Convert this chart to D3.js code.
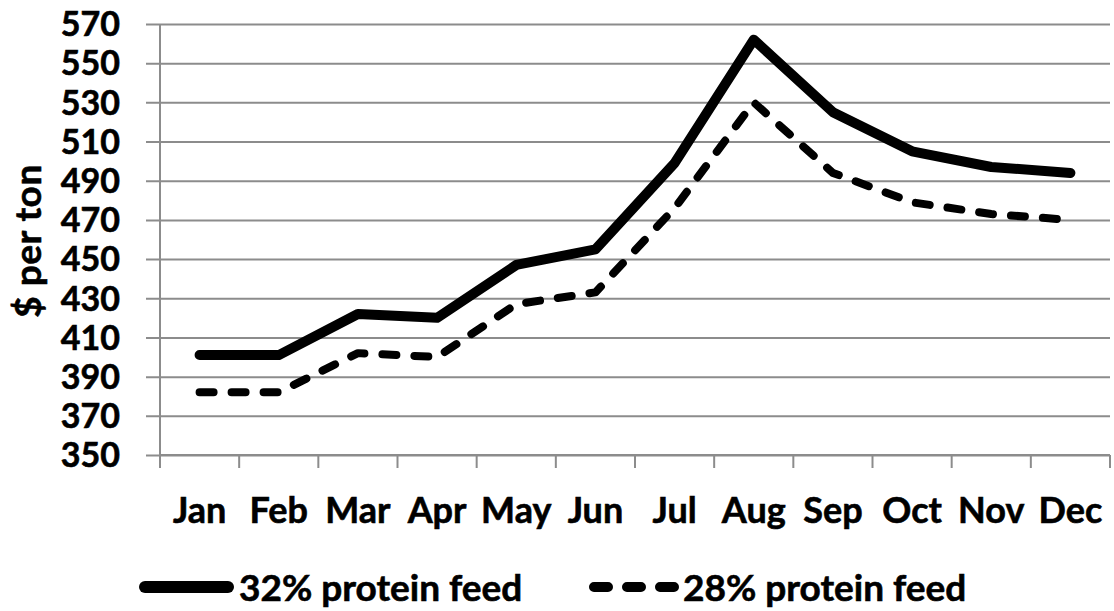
<!DOCTYPE html>
<html>
<head>
<meta charset="utf-8">
<script src="https://cdn.jsdelivr.net/npm/d3@7"></script>
<style>
  html, body { margin: 0; padding: 0; background: #fff; }
  text { font-family: Lato, "Open Sans", sans-serif; font-weight: bold; fill: #000; }
</style>
</head>
<body>
<div id="chart"></div>
<script>
let months = ["Jan", "Feb", "Mar", "Apr", "May", "Jun", "Jul", "Aug", "Sep", "Oct", "Nov", "Dec"];
let feed32 = [401, 401, 422, 420, 447, 455, 499, 562, 525, 505, 497, 494];
let feed28 = [382, 382, 402, 400, 427, 433, 476, 530, 494, 479, 473, 470];
let yTicks = [350, 370, 390, 410, 430, 450, 470, 490, 510, 530, 550, 570];
let seriesNames = ["32% protein feed", "28% protein feed"];

let fullWidth = 1114, fullHeight = 611;
let margin = { top: 24, right: 4, bottom: 156, left: 160 };
let width = fullWidth - margin.left - margin.right;
let height = fullHeight - margin.top - margin.bottom;

let svg = d3.select("#chart")
    .append("svg")
    .attr("width", fullWidth)
    .attr("height", fullHeight);

let g = svg.append("g")
    .attr("transform", `translate(${margin.left},${margin.top})`);

let x = d3.scaleBand()
    .domain(months)
    .range([0, width]);

let y = d3.scaleLinear()
    .domain([350, 570])
    .range([height, 0]);

// gridlines
g.append("g")
    .attr("class", "grid")
    .attr("transform", "translate(-14,0)")
    .call(d3.axisLeft(y).tickValues(yTicks).tickSize(-width - 14).tickFormat(""))
    .call(s => s.select(".domain").remove())
    .selectAll("line")
    .attr("stroke", "#8c8c8c")
    .attr("stroke-width", 2);

// y labels
g.append("g")
    .selectAll("text")
    .data(yTicks)
    .enter()
    .append("text")
    .attr("x", -40)
    .attr("y", d => y(d))
    .attr("dy", "0.36em")
    .attr("text-anchor", "end")
    .style("font-size", "34px")
    .style("stroke", "#000")
    .style("stroke-width", "0.6px")
    .text(d => d);

// y axis line
g.append("line")
    .attr("x1", 0).attr("x2", 0)
    .attr("y1", 0).attr("y2", height + 13)
    .attr("stroke", "#8c8c8c")
    .attr("stroke-width", 2);

// x axis line and ticks between categories
g.append("line")
    .attr("x1", 0).attr("x2", width)
    .attr("y1", height).attr("y2", height)
    .attr("stroke", "#8c8c8c")
    .attr("stroke-width", 2);

let boundaries = months.map(m => x(m)).concat([width]);
g.selectAll(".xtick")
    .data(boundaries)
    .enter()
    .append("line")
    .attr("class", "xtick")
    .attr("x1", d => d).attr("x2", d => d)
    .attr("y1", height).attr("y2", height + 13)
    .attr("stroke", "#8c8c8c")
    .attr("stroke-width", 2);

g.selectAll(".xlabel")
    .data(months)
    .enter()
    .append("text")
    .attr("class", "xlabel")
    .attr("x", d => x(d) + x.bandwidth() / 2)
    .attr("y", height + 68)
    .attr("text-anchor", "middle")
    .style("font-size", "36px")
    .style("stroke", "#000")
    .style("stroke-width", "0.6px")
    .text(d => d);

// y title
svg.append("text")
    .attr("transform", `translate(41,241) rotate(-90)`)
    .attr("text-anchor", "middle")
    .style("font-size", "37px")
    .style("letter-spacing", "0.5px")
    .style("stroke", "#000")
    .style("stroke-width", "0.6px")
    .text("$ per ton");

// lines
let line = d3.line()
    .x((d, i) => x(months[i]) + x.bandwidth() / 2)
    .y(d => y(d));

g.append("path")
    .datum(feed32)
    .attr("d", line)
    .attr("fill", "none")
    .attr("stroke", "#000")
    .attr("stroke-width", 10)
    .attr("stroke-linejoin", "round")
    .attr("stroke-linecap", "round");

g.append("path")
    .datum(feed28)
    .attr("d", line)
    .attr("fill", "none")
    .attr("stroke", "#000")
    .attr("stroke-width", 8)
    .attr("stroke-dasharray", "14,18")
    .attr("stroke-linejoin", "round")
    .attr("stroke-linecap", "round");

// legend
let legend = svg.append("g");
legend.append("line")
    .attr("x1", 145).attr("x2", 228)
    .attr("y1", 587).attr("y2", 587)
    .attr("stroke", "#000")
    .attr("stroke-width", 12)
    .attr("stroke-linecap", "round");
legend.append("text")
    .attr("x", 239)
    .attr("y", 601)
    .style("font-size", "37px")
    .style("stroke", "#000")
    .style("stroke-width", "0.6px")
    .text(seriesNames[0]);

legend.append("line")
    .attr("x1", 594).attr("x2", 674)
    .attr("y1", 587).attr("y2", 587)
    .attr("stroke", "#000")
    .attr("stroke-width", 10)
    .attr("stroke-dasharray", "14,19")
    .attr("stroke-linecap", "round");
legend.append("text")
    .attr("x", 683)
    .attr("y", 601)
    .style("font-size", "37px")
    .style("stroke", "#000")
    .style("stroke-width", "0.6px")
    .text(seriesNames[1]);
</script>
</body>
</html>
